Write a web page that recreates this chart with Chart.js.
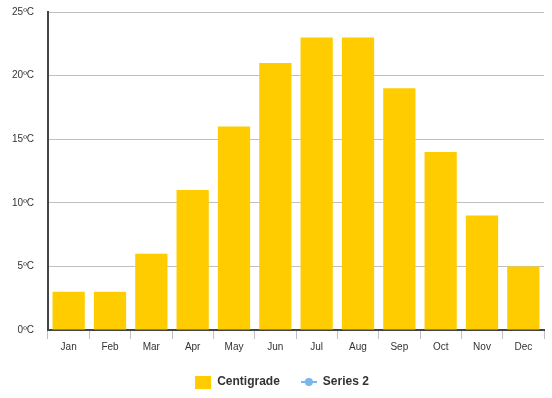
<!DOCTYPE html>
<html>
<head>
<meta charset="utf-8">
<script src="https://cdn.jsdelivr.net/npm/chart.js@4/dist/chart.umd.min.js"></script>
<style>
  html, body { margin: 0; padding: 0; background: #fff; }
  #wrap { width: 552px; height: 398px; }
</style>
</head>
<body>
<div id="wrap"><canvas id="chart"></canvas></div>
<script>
// --- data ---
const months     = ['Jan','Feb','Mar','Apr','May','Jun','Jul','Aug','Sep','Oct','Nov','Dec'];
const centigrade = [3, 3, 6, 11, 16, 21, 23, 23, 19, 14, 9, 5];
const series2    = [];
const yTicks     = [0, 5, 10, 15, 20, 25];

// legend icons
function rectIcon() {
  const c = document.createElement('canvas');
  c.width = 16; c.height = 13;
  const g = c.getContext('2d');
  g.fillStyle = '#ffcc00';
  g.fillRect(0, 0, 16, 13);
  return c;
}
function lineIcon() {
  const c = document.createElement('canvas');
  c.width = 16; c.height = 10;
  const g = c.getContext('2d');
  g.strokeStyle = '#7cb5ec';
  g.lineWidth = 2;
  g.beginPath(); g.moveTo(0, 5); g.lineTo(16, 5); g.stroke();
  g.fillStyle = '#7cb5ec';
  g.beginPath(); g.arc(8, 5, 4, 0, Math.PI * 2); g.fill();
  return c;
}
const icons = [rectIcon(), lineIcon()];

// legend sits a little right of the canvas centre
const legendShift = {
  id: 'legendShift',
  afterLayout(chart) {
    chart.legend.left += 10;
    chart.legend.right += 10;
  }
};

Chart.defaults.font.family = '"Liberation Sans", Arial, sans-serif';
Chart.defaults.color = '#333';

new Chart(document.getElementById('chart'), {
  type: 'bar',
  data: {
    labels: months,
    datasets: [
      {
        label: 'Centigrade',
        data: centigrade,
        backgroundColor: '#ffcc00',
        barPercentage: 0.78,
        categoryPercentage: 1.0
      },
      {
        type: 'line',
        label: 'Series 2',
        data: series2,
        borderColor: '#7cb5ec',
        backgroundColor: '#7cb5ec'
      }
    ]
  },
  plugins: [legendShift],
  options: {
    responsive: true,
    maintainAspectRatio: false,
    animation: false,
    layout: { padding: { top: 0, right: 8, left: 0, bottom: 0 } },
    plugins: {
      tooltip: { enabled: false },
      legend: {
        position: 'bottom',
        labels: {
          usePointStyle: true,
          pointStyleWidth: 16,
          font: { size: 12, weight: 'bold' },
          color: '#333',
          padding: 21,
          generateLabels: chart => chart.data.datasets.map((ds, i) => ({
            text: ds.label,
            pointStyle: icons[i],
            fillStyle: 'transparent',
            strokeStyle: 'transparent',
            lineWidth: 0,
            datasetIndex: i,
            fontColor: '#333'
          }))
        }
      }
    },
    scales: {
      x: {
        grid: {
          drawOnChartArea: false,
          drawTicks: true,
          tickLength: 9,
          color: '#c0c0c0',
          offset: true
        },
        border: { color: '#444', width: 2 },
        ticks: { font: { size: 10 }, color: '#333', padding: 2 }
      },
      y: {
        min: 0,
        max: 25,
        afterFit: s => { s.width = 48; },
        afterBuildTicks: s => { s.ticks = yTicks.map(v => ({ value: v })); },
        grid: { color: '#c0c0c0', drawTicks: true, tickLength: 8, tickColor: 'transparent' },
        border: { color: '#444', width: 2 },
        ticks: {
          font: { size: 10 },
          color: '#333',
          padding: 6,
          callback: v => v + 'ºC'
        }
      }
    }
  }
});
</script>
</body>
</html>
